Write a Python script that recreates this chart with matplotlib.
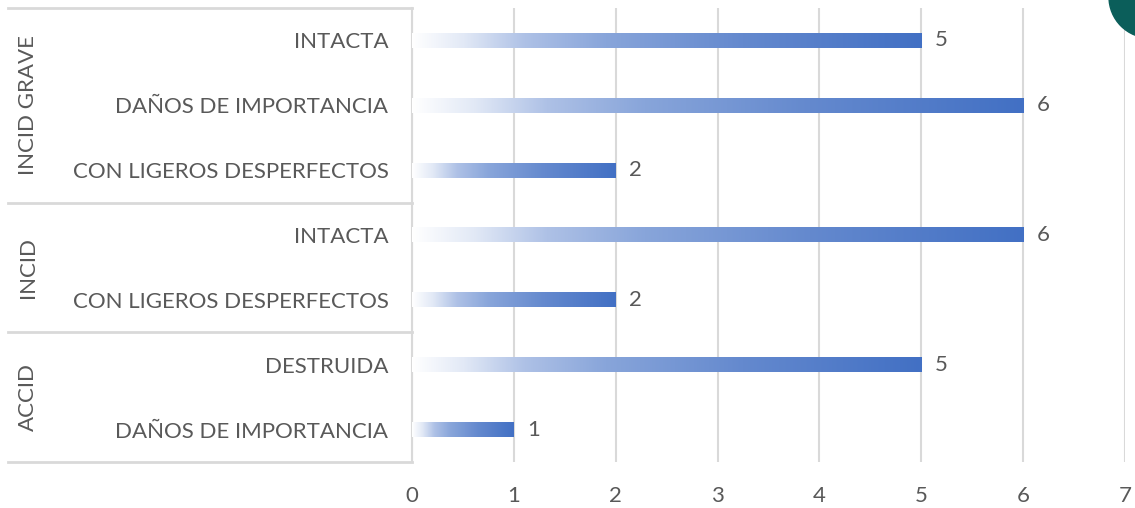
import numpy as np
import matplotlib.pyplot as plt
from matplotlib.colors import LinearSegmentedColormap
from matplotlib.patches import Circle
import matplotlib.transforms as mtransforms

plt.rcParams['font.family'] = ['Lato', 'DejaVu Sans']

# datos (de arriba hacia abajo)
categorias = ['INTACTA', 'DAÑOS DE IMPORTANCIA', 'CON LIGEROS DESPERFECTOS',
              'INTACTA', 'CON LIGEROS DESPERFECTOS',
              'DESTRUIDA', 'DAÑOS DE IMPORTANCIA']
valores = [5, 6, 2, 6, 2, 5, 1]
grupos = ['INCID GRAVE', 'INCID', 'ACCID']
tam_grupos = [3, 2, 2]

gris_txt = '#595959'
gris_lin = '#d9d9d9'
fs = 16

# degradado blanco -> azul a lo largo de cada barra
cmap = LinearSegmentedColormap.from_list('grad', [
    (0.0, '#ffffff'), (0.1, '#e2e9f6'), (0.22, '#aec1e6'),
    (0.38, '#88a5da'), (0.65, '#6489ce'), (1.0, '#4270c4')])

fig = plt.figure(figsize=(11.35, 5.08), dpi=100)
ax = fig.add_axes([412/1135, 1 - 462/508, (1125 - 412)/1135, (462 - 8)/508])
ax.patch.set_alpha(0)

n = len(categorias)
y = np.arange(n)
h = 0.23
grad = np.linspace(0, 1, 256).reshape(1, -1)
for yi, v in zip(y, valores):
    ax.imshow(grad, cmap=cmap, aspect='auto', extent=(0, v, yi + h/2, yi - h/2),
              interpolation='bilinear', zorder=3)
    ax.text(v + 0.13, yi, str(v), va='center', ha='left', fontsize=fs, color=gris_txt)

ax.set_xlim(0, 7)
ax.set_ylim(n - 0.5, -0.5)
ax.set_xticks(range(8))
ax.set_yticks(y)
ax.set_yticklabels(categorias)
ax.tick_params(axis='both', length=0, labelsize=fs, labelcolor=gris_txt)
ax.tick_params(axis='x', pad=17)
ax.tick_params(axis='y', pad=17)
ax.grid(axis='x', color=gris_lin, linewidth=1.5, zorder=0)
for s in ['top', 'right', 'bottom']:
    ax.spines[s].set_visible(False)
ax.spines['left'].set_color(gris_lin)
ax.spines['left'].set_linewidth(1.5)

# separadores y etiquetas de grupo
tr = mtransforms.blended_transform_factory(ax.transAxes, ax.transData)
x_izq = (8 - 412) / (1125 - 412)
inicio = 0
ax.plot([x_izq, 0], [-0.5, -0.5], transform=tr, color=gris_lin, lw=2, clip_on=False)
for g, t in zip(grupos, tam_grupos):
    fin = inicio + t
    ax.plot([x_izq, 0], [fin - 0.5, fin - 0.5], transform=tr, color=gris_lin,
            lw=2, clip_on=False)
    ax.text(x_izq + 0.028, (inicio + fin - 1) / 2, g, transform=tr, rotation=90,
            ha='center', va='center', fontsize=fs, color=gris_txt)
    inicio = fin

# circulo decorativo en la esquina
fig.patches.append(Circle((11.50, 5.11), 0.41, transform=fig.dpi_scale_trans,
                          color='#0b5e5a', zorder=0))

fig.savefig('out.png', dpi=100)
